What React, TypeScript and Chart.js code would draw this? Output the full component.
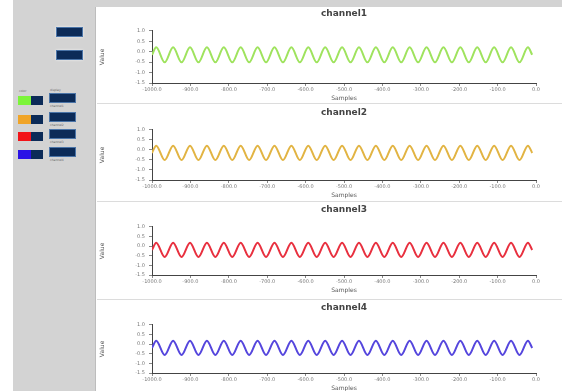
import React, { useEffect, useRef } from "react";
import { Chart, registerables } from "chart.js";

Chart.register(...registerables);

// Sample positions (peaks / troughs of each channel's waveform)
const SAMPLES = [
  -1000, -989, -967, -945, -923, -901, -879, -857, -835, -813, -791, -769, -747, -725, -703, -681,
  -659, -637, -615, -593, -571, -549, -527, -505, -483, -461, -439, -417, -395, -373, -351, -329,
  -307, -285, -263, -241, -219, -197, -175, -153, -131, -109, -87, -65, -43, -21, -10,
];

const CH1 = [
  -0.15, 0.21, -0.51, 0.21, -0.51, 0.21, -0.51, 0.21, -0.51, 0.21, -0.51, 0.21, -0.51, 0.21, -0.51, 0.21,
  -0.51, 0.21, -0.51, 0.21, -0.51, 0.21, -0.51, 0.21, -0.51, 0.21, -0.51, 0.21, -0.51, 0.21, -0.51, 0.21,
  -0.51, 0.21, -0.51, 0.21, -0.51, 0.21, -0.51, 0.21, -0.51, 0.21, -0.51, 0.21, -0.51, 0.21, -0.15,
];
const CH2 = [
  -0.15, 0.21, -0.51, 0.21, -0.51, 0.21, -0.51, 0.21, -0.51, 0.21, -0.51, 0.21, -0.51, 0.21, -0.51, 0.21,
  -0.51, 0.21, -0.51, 0.21, -0.51, 0.21, -0.51, 0.21, -0.51, 0.21, -0.51, 0.21, -0.51, 0.21, -0.51, 0.21,
  -0.51, 0.21, -0.51, 0.21, -0.51, 0.21, -0.51, 0.21, -0.51, 0.21, -0.51, 0.21, -0.51, 0.21, -0.15,
];
const CH3 = [
  -0.2, 0.17, -0.57, 0.17, -0.57, 0.17, -0.57, 0.17, -0.57, 0.17, -0.57, 0.17, -0.57, 0.17, -0.57, 0.17,
  -0.57, 0.17, -0.57, 0.17, -0.57, 0.17, -0.57, 0.17, -0.57, 0.17, -0.57, 0.17, -0.57, 0.17, -0.57, 0.17,
  -0.57, 0.17, -0.57, 0.17, -0.57, 0.17, -0.57, 0.17, -0.57, 0.17, -0.57, 0.17, -0.57, 0.17, -0.2,
];
const CH4 = [
  -0.2, 0.17, -0.57, 0.17, -0.57, 0.17, -0.57, 0.17, -0.57, 0.17, -0.57, 0.17, -0.57, 0.17, -0.57, 0.17,
  -0.57, 0.17, -0.57, 0.17, -0.57, 0.17, -0.57, 0.17, -0.57, 0.17, -0.57, 0.17, -0.57, 0.17, -0.57, 0.17,
  -0.57, 0.17, -0.57, 0.17, -0.57, 0.17, -0.57, 0.17, -0.57, 0.17, -0.57, 0.17, -0.57, 0.17, -0.2,
];

const CHANNEL_NAMES = ["channel1", "channel2", "channel3", "channel4"];
const CHANNEL_VALUES = [CH1, CH2, CH3, CH4];
const LINE_COLORS = ["#9fe35e", "#e2b443", "#e8303f", "#5546dd"];
const SWATCH_COLORS = ["#7cf53a", "#f0a428", "#f21418", "#2a12e6"];

const X_MIN = -1000;
const X_MAX = 0;
const X_STEP = 100;
const Y_MIN = -1.5;
const Y_MAX = 1.0;
const Y_STEP = 0.5;

const FONT = "'DejaVu Sans', Verdana, sans-serif";
const CHART_TOPS = [6, 105, 202, 300];
const CHART_HEIGHTS = [97, 95, 93, 93];

function ChannelChart({
  name,
  values,
  color,
  top,
  height,
}: {
  name: string;
  values: number[];
  color: string;
  top: number;
  height: number;
}) {
  const ref = useRef<HTMLCanvasElement | null>(null);
  useEffect(() => {
    if (!ref.current) return;
    const chart = new Chart(ref.current, {
      type: "line",
      data: {
        datasets: [
          {
            data: SAMPLES.map((x, i) => ({ x, y: values[i] })),
            borderColor: color,
            borderWidth: 2,
            pointRadius: 0,
            cubicInterpolationMode: "monotone",
            fill: false,
          },
        ],
      },
      options: {
        animation: false,
        responsive: false,
        maintainAspectRatio: false,
        layout: { padding: { left: 4, right: 26, top: 2, bottom: 1 } },
        plugins: {
          legend: { display: false },
          tooltip: { enabled: false },
          title: {
            display: true,
            text: name,
            fullSize: false,
            color: "#444",
            font: { size: 9, family: FONT, weight: "bold" },
            padding: { top: 0, bottom: 12 },
          },
        },
        scales: {
          x: {
            type: "linear",
            min: X_MIN,
            max: X_MAX,
            ticks: {
              stepSize: X_STEP,
              autoSkip: false,
              maxRotation: 0,
              callback: (v: any) => Number(v).toFixed(1),
              font: { size: 5, family: FONT },
              color: "#777",
              padding: 1,
            },
            grid: { drawOnChartArea: false, tickLength: 3, color: "#888" },
            border: { color: "#444", width: 1 },
            title: {
              display: true,
              text: "Samples",
              color: "#555",
              font: { size: 6, family: FONT },
              padding: { top: 1, bottom: 0 },
            },
            afterFit: (s: any) => {
              s.height = 19;
            },
          },
          y: {
            min: Y_MIN,
            max: Y_MAX,
            ticks: {
              stepSize: Y_STEP,
              callback: (v: any) => Number(v).toFixed(1),
              font: { size: 5, family: FONT },
              color: "#777",
              padding: 4,
            },
            grid: { drawOnChartArea: false, tickLength: 3, color: "#888" },
            border: { color: "#444", width: 1 },
            title: {
              display: true,
              text: "Value",
              color: "#555",
              font: { size: 6, family: FONT },
              padding: 0,
            },
            afterFit: (s: any) => {
              s.width = 53;
            },
          },
        },
      },
    });
    return () => chart.destroy();
  }, [name, values, color]);
  return (
    <canvas
      ref={ref}
      width={467}
      height={height}
      style={{ position: "absolute", left: 95, top, width: 467, height, display: "block" }}
    />
  );
}

const abs = (l: number, t: number, w: number, h: number, extra: any = {}) => ({
  position: "absolute" as const,
  left: l,
  top: t,
  width: w,
  height: h,
  ...extra,
});

const NAVY = "#0c2b58";

export default function App() {
  const rowTops = [93, 112, 129, 147];
  return (
    <div style={{ position: "fixed", left: 0, top: 0, width: 562, height: 391, background: "#ffffff", overflow: "hidden" }}>
      {/* frame */}
      <div style={abs(13, 0, 549, 391, { background: "#d3d3d3" })} />
      <div style={abs(95, 7, 467, 384, { background: "#ffffff", borderLeft: "1px solid #bdbdbd", boxSizing: "border-box" })} />
      {/* separators */}
      {[103, 201, 299].map((y) => (
        <div key={y} style={abs(97, y, 465, 1, { background: "#dcdcdc" })} />
      ))}
      {/* buttons */}
      <div style={abs(56, 27, 27, 10, { background: NAVY, border: "1px solid #4a74a8", boxSizing: "border-box", boxShadow: "0 0 2px #f4f4f4" })} />
      <div style={abs(56, 50, 27, 10, { background: NAVY, border: "1px solid #4a74a8", boxSizing: "border-box", boxShadow: "0 0 2px #f4f4f4" })} />
      {/* channel rows */}
      <div style={abs(19, 89, 20, 4, { fontSize: 3, fontFamily: FONT, color: "#666", lineHeight: "4px" })}>color</div>
      <div style={abs(50, 88, 30, 4, { fontSize: 3, fontFamily: FONT, color: "#666", lineHeight: "4px" })}>display</div>
      {rowTops.map((t, i) => (
        <React.Fragment key={i}>
          <div style={abs(18, t + 3, 13, 9, { background: SWATCH_COLORS[i] })} />
          <div style={abs(31, t + 3, 12, 9, { background: NAVY })} />
          <div style={abs(49, t, 27, 10, { background: NAVY, border: "1px solid #4a74a8", boxSizing: "border-box" })} />
          <div style={abs(50, t + 11, 36, 4, { fontSize: 3, fontFamily: FONT, color: "#666", lineHeight: "4px", whiteSpace: "nowrap" })}>
            {CHANNEL_NAMES[i]}
          </div>
        </React.Fragment>
      ))}
      {CHANNEL_NAMES.map((n, i) => (
        <ChannelChart
          key={n}
          name={n}
          values={CHANNEL_VALUES[i]}
          color={LINE_COLORS[i]}
          top={CHART_TOPS[i]}
          height={CHART_HEIGHTS[i]}
        />
      ))}
    </div>
  );
}
